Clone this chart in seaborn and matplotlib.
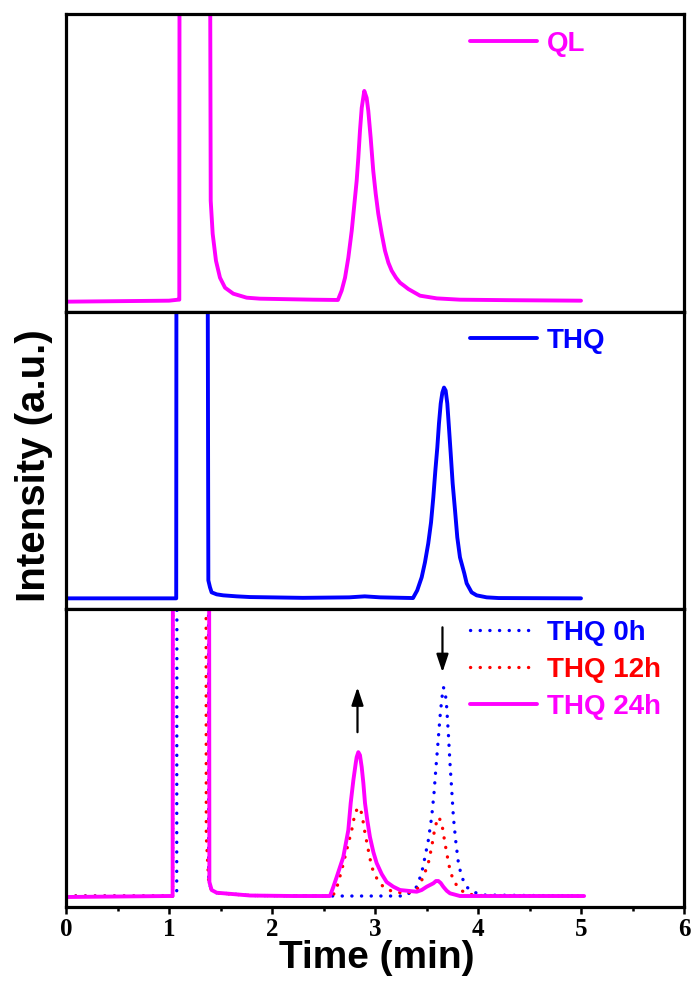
import numpy as np
import pandas as pd
import seaborn as sns
import matplotlib.pyplot as plt
from matplotlib.ticker import MultipleLocator

# ---- chromatogram traces (retention time in min, detector response in a.u.) ----
# the solvent front is off-scale; 800 stands for "above the axis"
ql_t = [0.0, 0.5, 1.0, 1.09, 1.100, 1.105, 1.388, 1.405, 1.424, 1.456, 1.495, 1.544,
        1.624, 1.754, 1.883, 2.4, 2.64, 2.676, 2.709, 2.741, 2.774, 2.800, 2.822, 2.838,
        2.854, 2.871, 2.896, 2.919, 2.935, 2.958, 2.983, 3.007, 3.032, 3.065, 3.097,
        3.130, 3.162, 3.204, 3.243, 3.282, 3.323, 3.437, 3.60, 3.825, 4.3, 5.0]
ql_v = [-1, -0.5, 0, 1, 1, 800, 800, 100, 67, 40, 23, 13,
        7, 3, 2, 1, 0.7, 10, 23, 43, 70, 97, 120, 143,
        170, 193, 210, 203, 190, 163, 130, 107, 87, 67, 50,
        38, 30, 23, 18, 15, 11.7, 5, 2.3, 1, 0.5, 0]

thq_t = [0.0, 0.5, 1.0, 1.070, 1.075, 1.366, 1.382, 1.398, 1.414, 1.463, 1.527, 1.657,
         1.786, 2.3, 2.75, 2.9, 3.05, 3.369, 3.41, 3.453, 3.485, 3.517, 3.544, 3.566,
         3.586, 3.605, 3.621, 3.638, 3.654, 3.670, 3.686, 3.702, 3.718, 3.735, 3.754,
         3.777, 3.799, 3.825, 3.867, 3.890, 3.938, 3.987, 4.084, 4.2, 5.0]
thq_v = [0, 0, 0, 0, 800, 800, 18, 11, 6, 4, 3, 2,
         1.3, 0.5, 1, 2, 1, 0.3, 8, 21, 36, 55, 76, 101,
         128, 151, 175, 195, 206, 211, 208, 195, 171, 145, 115,
         88, 61, 41, 25, 15, 6, 3, 1, 0.3, 0]

h0_t = [0.0, 1.0, 1.075, 1.080, 1.380, 1.386, 1.414, 1.463, 1.786, 2.5, 3.3, 3.405, 3.453,
        3.485, 3.518, 3.550, 3.573, 3.592, 3.608, 3.631, 3.647, 3.663, 3.680, 3.696,
        3.712, 3.728, 3.745, 3.761, 3.786, 3.810, 3.842, 3.890, 3.955, 4.05, 5.0]
h0_v = [0, 0, 0, 800, 800, 14, 6, 3.3, 0.5, 0, 0, 9.3, 23,
        39, 56, 79, 103, 129, 149, 179, 196, 209, 206, 189,
        163, 133, 106, 79, 53, 33, 19, 9, 4, 1, 0]

h12_t = [0.0, 1.0, 1.035, 1.042, 1.356, 1.362, 1.385, 1.40, 1.46, 1.8, 2.59, 2.628, 2.677,
         2.725, 2.774, 2.806, 2.838, 2.871, 2.903, 2.935, 2.968, 3.016, 3.081, 3.178,
         3.308, 3.405, 3.469, 3.518, 3.550, 3.583, 3.615, 3.647, 3.663, 3.696, 3.728,
         3.760, 3.810, 3.874, 3.98, 5.0]
h12_v = [0, 0, 0, 800, 800, 60, 15, 8, 3, 0.5, 0, 8, 26,
         46, 66, 83, 89, 83, 63, 46, 29, 18, 9, 4,
         2.7, 6, 19, 33, 49, 69, 79, 74, 63, 43, 26,
         16, 8, 3, 0.5, 0]

h24_t = [0.0, 0.5, 1.0, 1.035, 1.042, 1.386, 1.392, 1.414, 1.463, 1.786, 2.2, 2.563, 2.595,
         2.628, 2.692, 2.741, 2.764, 2.790, 2.813, 2.822, 2.838, 2.854, 2.871, 2.887,
         2.903, 2.925, 2.951, 2.984, 3.016, 3.065, 3.113, 3.178, 3.243, 3.405, 3.453,
         3.502, 3.566, 3.592, 3.615, 3.638, 3.663, 3.696, 3.728, 3.825, 4.3, 5.03]
h24_v = [-1, -0.5, 0, 0, 800, 800, 14, 6, 3.3, 0.5, 0, 0, 9,
         19, 39, 66, 93, 116, 133, 139, 144, 141, 129, 113,
         93, 76, 59, 44, 33, 22, 14, 9.3, 6, 4.3, 6,
         9.3, 12.7, 15, 15, 13, 9.3, 5.3, 2.7, 0, 0, 0]

x_ticks = [0, 1, 2, 3, 4, 5, 6]

MAGENTA, BLUE, RED = "#FF00FF", "#0000FF", "#FF0000"

sns.set_style("ticks")
plt.rcParams["font.family"] = ["Liberation Sans", "DejaVu Sans"]
plt.rcParams["text.color"] = "black"
plt.rcParams["axes.labelcolor"] = "black"
plt.rcParams["xtick.color"] = "black"
plt.rcParams["ytick.color"] = "black"

fig, axes = plt.subplots(3, 1, figsize=(6.91, 9.83), dpi=100, sharex=True)
fig.subplots_adjust(left=66 / 691, right=684 / 691, top=1 - 14 / 983,
                    bottom=1 - 907 / 983, hspace=0)

solid = dict(lw=2.8, solid_capstyle="round", solid_joinstyle="round")
dotted = dict(lw=2.4, linestyle=(0, (0.05, 2.85)), dash_capstyle="round")


def trace(ax, t, v, color, label, style):
    df = pd.DataFrame({"t": t, "v": v})
    sns.lineplot(data=df, x="t", y="v", ax=ax, color=color, label=label,
                 sort=False, estimator=None, **style)


trace(axes[0], ql_t, ql_v, MAGENTA, "QL", solid)
trace(axes[1], thq_t, thq_v, BLUE, "THQ", solid)
trace(axes[2], h0_t, h0_v, BLUE, "THQ 0h", dotted)
trace(axes[2], h12_t, h12_v, RED, "THQ 12h", dotted)
trace(axes[2], h24_t, h24_v, MAGENTA, "THQ 24h", solid)

for ax in axes:
    ax.set_xlim(0, 6)
    ax.set_ylim(-11, 287)
    ax.set_xlabel("")
    ax.set_ylabel("")
    ax.set_yticks([])
    for sp in ax.spines.values():
        sp.set_linewidth(2.3)
        sp.set_color("black")
        sp.set_visible(True)

for ax in axes[:2]:
    ax.tick_params(bottom=False, labelbottom=False, left=False)

ax = axes[2]
ax.set_xticks(x_ticks)
ax.xaxis.set_minor_locator(MultipleLocator(0.5))
ax.tick_params(axis="x", which="major", direction="out", length=5, width=1.8, pad=3)
ax.tick_params(axis="x", which="minor", direction="out", length=3, width=1.8)
ax.tick_params(left=False)
ax.set_xticklabels([str(v) for v in x_ticks], family="Liberation Serif",
                   weight="bold", fontsize=18, color="black")

# reaction-progress arrows
arrow = dict(arrowstyle="-|>,head_length=0.6,head_width=0.2", color="black",
             lw=1.6, mutation_scale=18, shrinkA=0, shrinkB=0)
ax.annotate("", xy=(2.83, 209), xytext=(2.83, 164), arrowprops=arrow)
ax.annotate("", xy=(3.655, 224), xytext=(3.655, 269), arrowprops=arrow)

legend_kw = dict(loc="center left", frameon=False, borderpad=0, borderaxespad=0,
                 handlelength=2.4, handletextpad=0.35, labelspacing=0.4,
                 prop=dict(weight="bold", size=20))
for ax_, yfrac in zip(axes, [0.899, 0.903, 0.797]):
    leg = ax_.legend(bbox_to_anchor=(0.654, yfrac), **legend_kw)
    for txt, ln in zip(leg.get_texts(), leg.get_lines()):
        txt.set_color(ln.get_color())

fig.text(377 / 691, 1 - 958 / 983, "Time (min)", ha="center", va="center",
         fontsize=28, weight="bold", color="black")
fig.text(34 / 691, 1 - 466 / 983, "Intensity (a.u.)", ha="center", va="center",
         rotation=90, fontsize=29, weight="bold", color="black")

fig.savefig("out.png", dpi=100)
